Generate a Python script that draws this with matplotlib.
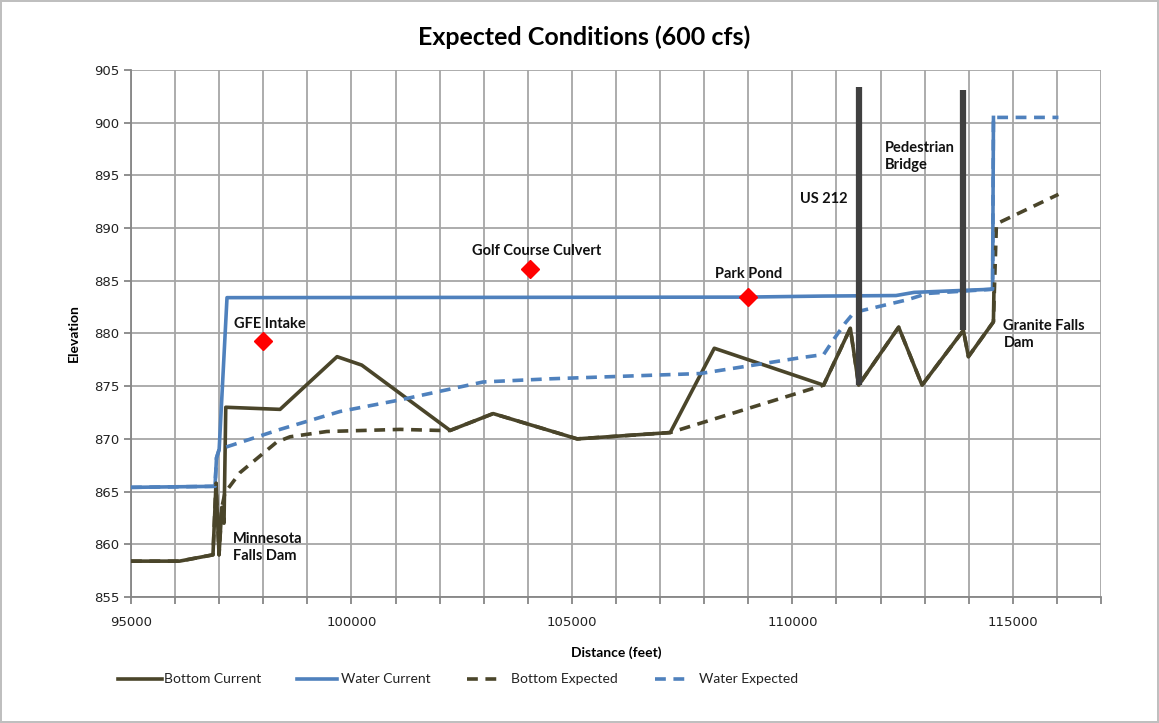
import matplotlib
matplotlib.use("Agg")
import matplotlib.pyplot as plt
from matplotlib.ticker import MultipleLocator
from matplotlib.lines import Line2D

# river profile, distance (ft) vs elevation
bc_x = [95000, 96100, 96860, 96929, 96997, 97060, 97110, 97150, 98381, 99674, 100234,
        102238, 103214, 105120, 107230, 108229, 110708, 111314, 111503, 112410, 112941,
        113878, 113992, 114559, 114570]
bc_y = [858.4, 858.4, 859.0, 865.8, 859.0, 863.5, 862.0, 873.0, 872.8, 877.8, 877.0,
        870.8, 872.4, 870.0, 870.6, 878.6, 875.1, 880.5, 875.1, 880.6, 875.1,
        880.3, 877.8, 881.1, 883.8]

wc_x = [95000, 96906, 96940, 97000, 97178, 108900, 110700, 112350, 112760, 114540, 114560]
wc_y = [865.4, 865.5, 868.2, 869.0, 883.4, 883.45, 883.55, 883.6, 883.9, 884.2, 900.5]

be_x = [95000, 96100, 96860, 96929, 96997, 97060, 97133, 97473, 98306, 98608, 99440,
        101104, 102010, 102238, 103214, 105120, 107230, 110708, 111314, 111503, 112410,
        112941, 113878, 113992, 114559, 114627, 116034]
be_y = [858.4, 858.4, 859.0, 865.8, 859.0, 863.5, 864.9, 866.8, 869.7, 870.2, 870.7,
        870.9, 870.8, 870.8, 872.4, 870.0, 870.6, 875.1, 880.5, 875.1, 880.6,
        875.1, 880.3, 877.8, 881.1, 890.4, 893.2]

we_x = [95000, 96906, 96940, 97000, 97065, 98381, 99742, 101104, 102987, 104507, 107911,
        110180, 110708, 110930, 111200, 111400, 112608, 113062, 114540, 114560, 116034]
we_y = [865.4, 865.5, 868.2, 869.0, 869.1, 870.9, 872.6, 873.7, 875.4, 875.7, 876.2,
        877.7, 878.0, 879.4, 881.0, 882.0, 883.2, 883.8, 884.2, 900.5, 900.5]

# bridges
bridge_x = [111503, 113878]
bridge_lo = [875.1, 880.3]
bridge_hi = [903.4, 903.1]

# points of interest
poi_x = [98000, 104050, 109000]
poi_y = [879.3, 886.1, 883.5]

series_names = ["Bottom Current", "Water Current", "Bottom Expected", "Water Expected"]

olive = "#4a452a"
blue = "#4f81bd"
cal = ["Lato", "DejaVu Sans"]
W, H = 1159, 723

fig = plt.figure(figsize=(W / 100, H / 100), dpi=100)
fig.patch.set_edgecolor("#bfbfbf")
fig.patch.set_linewidth(1.5)
ax = fig.add_axes([0.113, 0.1743, 0.837, 0.7289])

lw = 2.6
dash = (3.0, 2.1)
styles = [dict(color=olive, lw=lw), dict(color=blue, lw=lw),
          dict(color=olive, lw=lw, dashes=dash), dict(color=blue, lw=lw, dashes=dash)]

ax.plot(bc_x, bc_y, zorder=3, **styles[0])
ax.plot(wc_x, wc_y, zorder=4, **styles[1])
ax.plot(be_x, be_y, zorder=5, **styles[2])
ax.plot(we_x, we_y, zorder=6, **styles[3])
ax.vlines(bridge_x, bridge_lo, bridge_hi, color="#404040", lw=4.5, zorder=7)
ax.plot(poi_x, poi_y, ls="none", marker="D", ms=9.5, color="#ff0000", zorder=8)

ax.set_xlim(95000, 117000)
ax.set_ylim(855, 905)
ax.xaxis.set_major_locator(MultipleLocator(5000))
ax.xaxis.set_minor_locator(MultipleLocator(1000))
ax.yaxis.set_major_locator(MultipleLocator(5))
ax.grid(True, which="both", color="#a6a6a6", lw=1.3)
ax.set_axisbelow(True)
for s in ["top", "right"]:
    ax.spines[s].set_visible(False)
for s in ["left", "bottom"]:
    ax.spines[s].set_color("#868686")
    ax.spines[s].set_linewidth(1.3)
ax.tick_params(which="both", color="#868686", length=5, width=1.3, labelsize=9.5,
               labelcolor="#222222")
ax.tick_params(axis="x", pad=9)

fig.text(584 / W, 1 - 37 / H, "Expected Conditions (600 cfs)", family=cal,
         fontweight="bold", fontsize=18, ha="center", va="center")
ax.set_xlabel("Distance (feet)", family=cal, fontweight="bold", fontsize=10, labelpad=12)
ax.set_ylabel("Elevation", family=cal, fontweight="bold", fontsize=10, labelpad=10)

note = dict(family=cal, fontweight="bold", fontsize=10.5, color="#111111", zorder=9)
ax.text(97314, 859.7, "Minnesota\nFalls Dam", ha="left", va="center", linespacing=1.3, **note)
ax.text(98154, 880.9, "GFE Intake", ha="center", va="center", **note)
ax.text(104190, 887.8, "Golf Course Culvert", ha="center", va="center", **note)
ax.text(109000, 885.6, "Park Pond", ha="center", va="center", **note)
ax.text(110700, 892.8, "US 212", ha="center", va="center", **note)
ax.text(112108, 896.8, "Pedestrian\nBridge", ha="left", va="center", linespacing=1.3, **note)
ax.text(114786, 879.9, "Granite Falls\nDam", ha="left", va="center", linespacing=1.3, **note)

# legend row below the axis title, laid out in pixels
leg_y = 1 - 679 / H
leg_items = [(118, 162, 164), (297, 337, 341), (467, 497, 511), (655, 685, 699)]
for (x0, x1, tx), name, st in zip(leg_items, series_names, styles):
    fig.add_artist(Line2D([x0 / W, x1 / W], [leg_y, leg_y], transform=fig.transFigure, **st))
    fig.text(tx / W, leg_y, name, family=cal, fontsize=10, ha="left", va="center",
             color="#222222")

fig.savefig("out.png", dpi=100, edgecolor=fig.get_edgecolor())
